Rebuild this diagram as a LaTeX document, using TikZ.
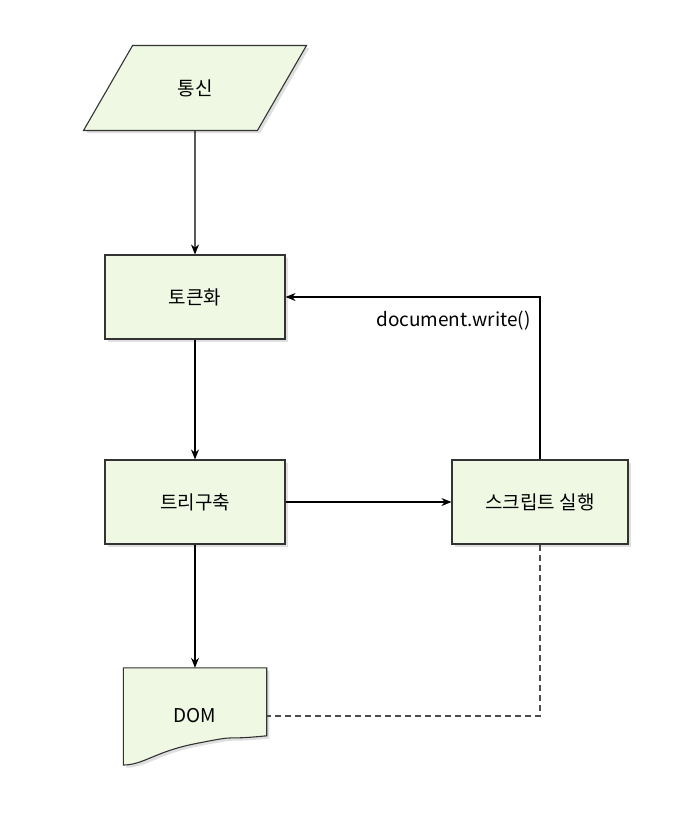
\documentclass[tikz,border=0pt]{standalone}
\usepackage{fontspec}
\setmainfont{Noto Sans CJK KR}
\usetikzlibrary{positioning,arrows.meta,shapes.geometric,shadows}
\definecolor{BoxFill}{HTML}{EEF8E2}
\definecolor{BoxLine}{HTML}{333333}
\tikzset{
  bigtext/.style={font=\fontsize{19}{22}\selectfont},
  procbox/.style={draw=BoxLine, line width=1.1pt, fill=BoxFill, minimum width=180pt, minimum height=84pt, bigtext, drop shadow={opacity=0.25}},
  flow/.style={-{Stealth[length=10pt,width=8pt]}, line width=1.1pt, black},
}
\begin{document}
\begin{tikzpicture}[x=1pt,y=1pt]
  \useasboundingbox[fill=white] (0,0) rectangle (680,-822);
  % Flux principal
  \node[trapezium, trapezium left angle=60, trapezium right angle=120, draw=BoxLine, line width=1.1pt, fill=BoxFill,
        minimum width=215pt, minimum height=85pt, inner xsep=0pt, bigtext, drop shadow={opacity=0.25}]
        (comm) at (195,-88) {통신};
  \node[procbox] (token) at (195,-297) {토큰화};
  \node[procbox] (tree) at (195,-502) {트리구축};
  \node[procbox, minimum width=176pt] (script) at (540,-502) {스크립트 실행};
  % Document
  \node[minimum width=143pt, minimum height=96pt] (dom) at (195,-716) {};
  \draw[draw=BoxLine, line width=1.1pt, fill=BoxFill, drop shadow={opacity=0.25}]
    (dom.north west) -- (dom.north east) -- ++(0,-68)
    .. controls ++(-50,-5) and ++(50,10) .. ++(-72,-8)
    .. controls ++(-40,-8) and ++(20,0) .. (dom.north west |- 0,-765) -- cycle;
  \node[bigtext] at (dom) {DOM};
  % Connecteurs
  \draw[flow] (comm) -- (token);
  \draw[flow] (token) -- (tree);
  \draw[flow] (tree) -- (dom.north);
  \draw[flow] (tree) -- (script);
  \draw[flow] (script.north) |- (token.east)
    node[pos=0.67, below=10pt, bigtext] {document.write()};
  \draw[line width=1.1pt, dash pattern=on 6pt off 4pt, black!70] (script.south) |- (dom.east);
\end{tikzpicture}
\end{document}
